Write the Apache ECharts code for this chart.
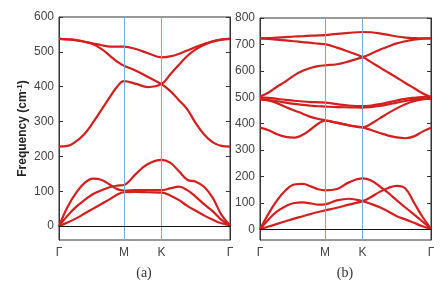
<!DOCTYPE html>
<html>
<head>
<meta charset="utf-8">
<script src="https://cdn.jsdelivr.net/npm/echarts@6/dist/echarts.min.js"></script>
<style>html,body{margin:0;padding:0;background:#fff;}#c{width:445px;height:285px;}</style>
</head>
<body>
<div id="c"></div>
<script>
// k-path positions (fraction of path length) and labels
const kPos = [0, 0.38, 0.60, 1];
const kLabels = ['Γ', 'M', 'K', 'Γ'];
// common sampling along the path
const xs = [0, 0.05, 0.1, 0.15, 0.2, 0.25, 0.3, 0.34, 0.38, 0.45, 0.52, 0.6, 0.65, 0.7, 0.75, 0.8, 0.85, 0.9, 0.95, 1];

// panel (a) bands
const a1 = [537, 536, 534, 529, 524, 519, 515, 515, 515, 508, 496, 484, 487, 494, 504, 514, 523, 530, 535, 537];
const a2 = [537, 536, 533, 529, 522, 508, 488, 472, 460, 446, 428, 407, 388, 362, 335, 295, 262, 240, 230, 228];
const a3 = [228, 230, 243, 265, 298, 335, 372, 400, 416, 408, 399, 408, 435, 462, 488, 507, 520, 530, 535, 537];
const a4 = [0, 30, 55, 75, 92, 103, 112, 116, 118, 150, 178, 190, 182, 158, 133, 127, 112, 80, 32, 2];
const a5 = [0, 55, 95, 124, 136, 132, 118, 106, 102, 103, 103, 103, 108, 113, 103, 84, 62, 42, 18, 2];
const a6 = [0, 10, 22, 36, 50, 64, 78, 90, 97, 98, 97, 96, 88, 75, 58, 44, 30, 18, 8, 2];

// panel (b) bands
const b1 = [723, 724, 726, 728, 730, 731, 733, 734, 735, 740, 744, 747, 746, 742, 736, 730, 726, 724, 723, 723];
const b2 = [723, 721, 718, 715, 712, 709, 706, 703, 701, 688, 672, 652, 633, 613, 594, 574, 554, 535, 515, 500];
const b3 = [503, 518, 540, 560, 583, 600, 612, 618, 621, 625, 636, 652, 665, 680, 692, 704, 712, 718, 722, 723];
const b4 = [500, 498, 494, 490, 487, 484, 482, 481, 480, 474, 469, 467, 469, 474, 481, 488, 494, 498, 501, 503];
const b5 = [492, 489, 485, 480, 475, 471, 468, 466, 465, 463, 462, 461, 463, 467, 473, 480, 486, 491, 494, 496];
const b6 = [494, 488, 478, 463, 450, 438, 425, 418, 413, 403, 394, 386, 400, 420, 440, 458, 474, 485, 492, 495];
const b7 = [385, 375, 360, 350, 347, 358, 380, 400, 412, 404, 394, 386, 376, 365, 355, 348, 345, 352, 370, 385];
const b8 = [0, 60, 110, 148, 170, 172, 162, 152, 148, 153, 178, 193, 185, 163, 138, 110, 83, 57, 30, 2];
const b9 = [0, 38, 68, 88, 100, 102, 98, 94, 95, 110, 116, 107, 96, 84, 68, 50, 38, 25, 12, 2];
const b10 = [0, 11, 21, 31, 41, 50, 59, 66, 72, 82, 94, 107, 123, 142, 157, 165, 155, 102, 48, 3];

const ticksA = [0, 100, 200, 300, 400, 500, 600];
const ticksB = [0, 100, 200, 300, 400, 500, 600, 700, 800];

const bandsA = [a1, a2, a3, a4, a5, a6];
const bandsB = [b1, b2, b3, b4, b5, b6, b7, b8, b9, b10];

const RED = '#d21f1f';
const FRAME = '#333';
const font = 'Liberation Sans';

function xAxis(gi) {
  return {
    type: 'value', gridIndex: gi, min: 0, max: 1,
    axisLine: { show: true, lineStyle: { color: FRAME, width: 1 } },
    axisTick: { show: false },
    splitLine: { show: false },
    axisLabel: {
      customValues: kPos,
      formatter: v => kLabels[kPos.indexOf(v)] !== undefined ? kLabels[kPos.indexOf(v)] : '',
      color: '#444', fontSize: 12, fontFamily: font, margin: 7
    }
  };
}
function yAxes(gi, max, ticks, named) {
  const left = {
    type: 'value', gridIndex: gi, min: -40, max: max, position: 'left',
    axisLine: { show: true, lineStyle: { color: FRAME, width: 1 } },
    axisTick: { show: true, inside: true, length: 4, customValues: ticks, lineStyle: { color: FRAME } },
    splitLine: { show: false },
    axisLabel: { customValues: ticks, color: '#444', fontSize: 12, fontFamily: font, margin: 5 }
  };
  if (named) {
    left.name = '{t|Frequency (cm}{s|-1}{t|)}';
    left.nameLocation = 'middle';
    left.nameGap = 29;
    left.nameRotate = 90;
    left.nameTextStyle = {
      rich: {
        t: { fontSize: 12, fontWeight: 'bold', color: '#222', fontFamily: font },
        s: { fontSize: 8, fontWeight: 'bold', color: '#222', fontFamily: font, verticalAlign: 'top', padding: [0, 0, 6, 0] }
      }
    };
  }
  const right = {
    type: 'value', gridIndex: gi, min: -40, max: max, position: 'right',
    axisLine: { show: true, lineStyle: { color: FRAME, width: 1 } },
    axisTick: { show: true, inside: true, length: 4, customValues: ticks, lineStyle: { color: FRAME } },
    splitLine: { show: false },
    axisLabel: { show: false }
  };
  return [left, right];
}

const series = [];
function addPanel(bands, xi, yi) {
  series.push({
    type: 'line', xAxisIndex: xi, yAxisIndex: yi, data: [], z: 1, silent: true,
    markLine: {
      silent: true, symbol: ['none', 'none'], label: { show: false }, animation: false,
      data: [
        { xAxis: kPos[1], lineStyle: { color: '#7ea7c8', width: 1, type: 'solid' } },
        { xAxis: kPos[2], lineStyle: { color: '#7ea7c8', width: 1, type: 'solid' } },
        { yAxis: 0, lineStyle: { color: '#111', width: 1, type: 'solid' } }
      ]
    }
  });
  bands.forEach(b => {
    series.push({
      type: 'line', xAxisIndex: xi, yAxisIndex: yi, z: 3,
      data: xs.map((x, i) => [x, b[i]]),
      smooth: 0.4, showSymbol: false, symbol: 'none',
      lineStyle: { color: RED, width: 2.2 }
    });
  });
}
addPanel(bandsA, 0, 0);
addPanel(bandsB, 1, 2);

const chart = echarts.init(document.getElementById('c'), null, { renderer: 'canvas' });
chart.setOption({
  animation: false,
  backgroundColor: '#fff',
  grid: [
    { left: 59, top: 17, width: 171, height: 223, show: true, borderColor: FRAME, borderWidth: 1, backgroundColor: 'transparent' },
    { left: 260, top: 18, width: 171, height: 222, show: true, borderColor: FRAME, borderWidth: 1, backgroundColor: 'transparent' }
  ],
  xAxis: [xAxis(0), xAxis(1)],
  yAxis: [...yAxes(0, 600, ticksA, true), ...yAxes(1, 800, ticksB, false)],
  graphic: [
    { type: 'text', x: 144, y: 266, style: { text: '(a)', font: '14px "Liberation Serif"', fill: '#333', textAlign: 'center' } },
    { type: 'text', x: 345, y: 266, style: { text: '(b)', font: '14px "Liberation Serif"', fill: '#333', textAlign: 'center' } }
  ],
  series: series
});
</script>
</body>
</html>
